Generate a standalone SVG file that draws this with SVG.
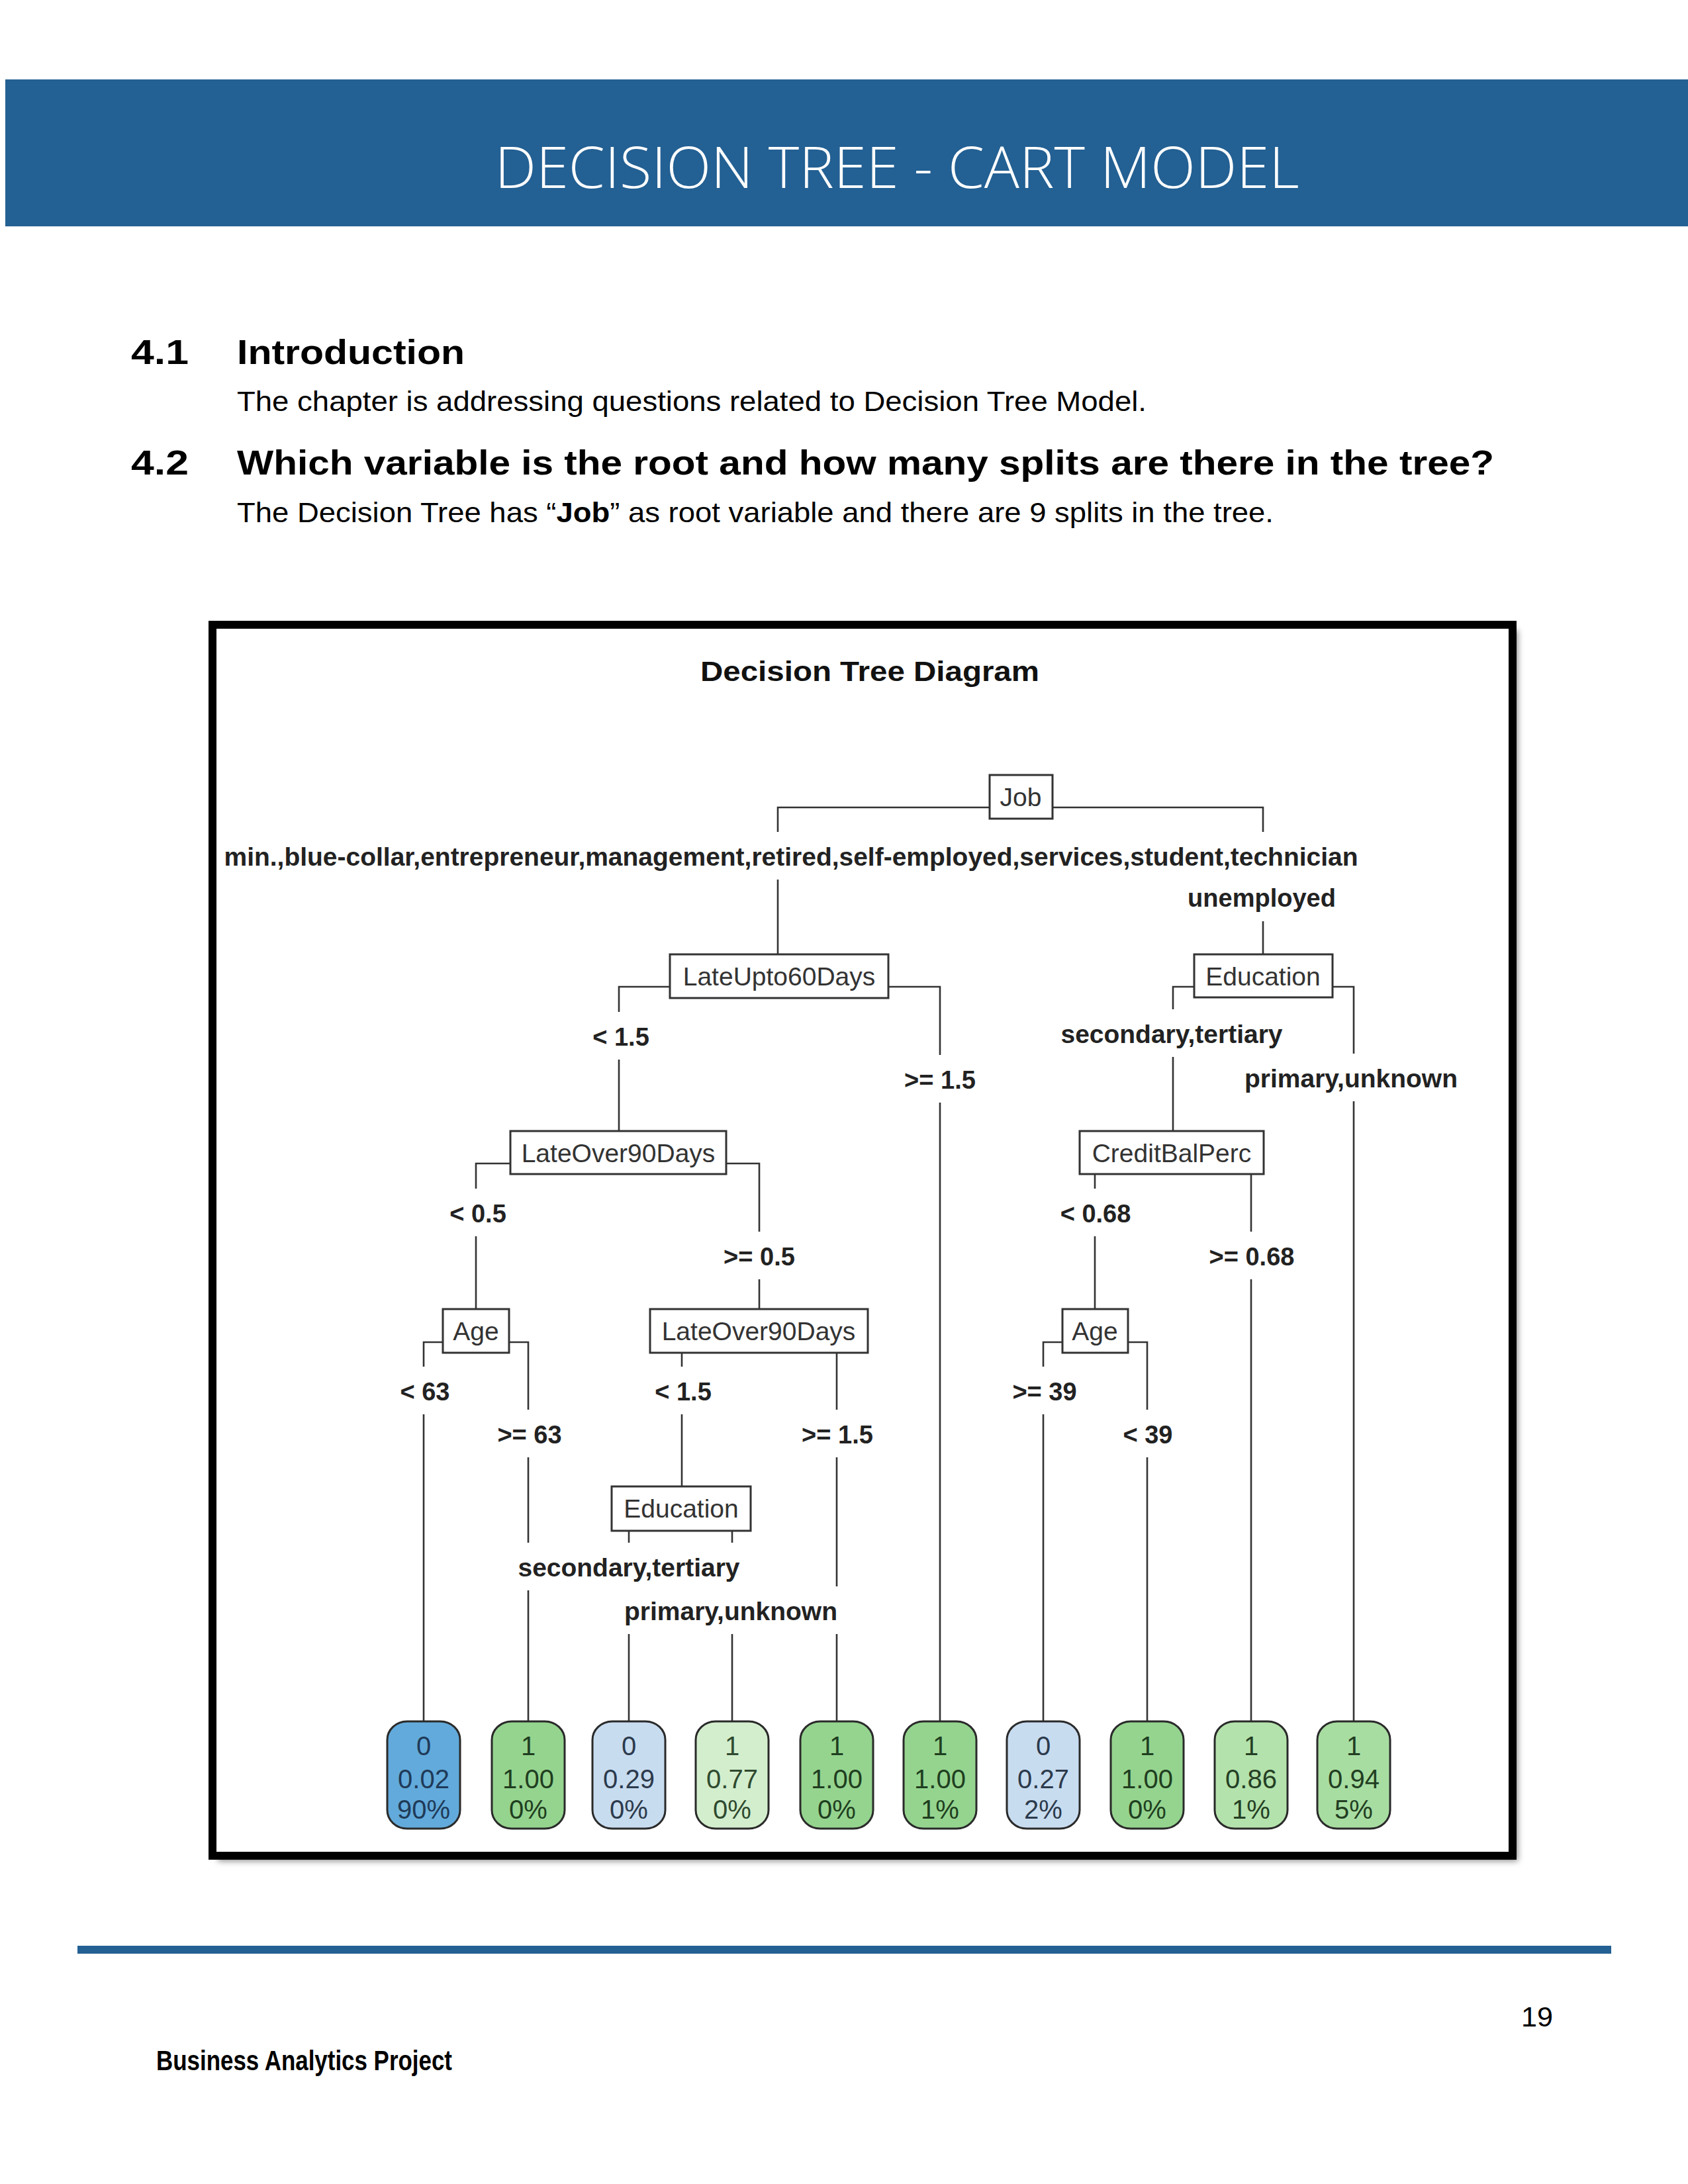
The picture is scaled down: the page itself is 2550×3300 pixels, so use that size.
<svg xmlns="http://www.w3.org/2000/svg" width="2550" height="3300" viewBox="0 0 2550 3300">
<style>
.page{font-family:"Liberation Sans",Arial,sans-serif;fill:#000}
.title{font-family:"Open Sans","Liberation Sans",sans-serif;font-weight:300;font-size:86px;fill:#fff}
.h{font-family:"Liberation Sans",Arial,sans-serif;font-weight:bold;font-size:52px;fill:#000}
.body{font-family:"Liberation Sans",Arial,sans-serif;font-size:42px;fill:#000}
.ctitle{font-family:"Liberation Sans",Arial,sans-serif;font-weight:bold;font-size:42px;fill:#111}
.conn path{fill:none;stroke:#333;stroke-width:2.6}
.node rect{fill:#fff;stroke:#333;stroke-width:3}
.node text{font-family:"Liberation Sans",Arial,sans-serif;font-size:39px;fill:#333;text-anchor:middle}
.lbl rect{fill:#fff;stroke:none}
.lbl text{font-family:"Liberation Sans",Arial,sans-serif;font-weight:bold;font-size:38px;fill:#222;text-anchor:middle}
.leaf rect{stroke:#2a2a2a;stroke-width:3}
.leaf text{font-family:"Liberation Sans",Arial,sans-serif;font-size:40px;text-anchor:middle}
.b0 rect{fill:#62AADB}.b0 text{fill:#1f3a58}
.b1 rect{fill:#C8DCF0}.b1 text{fill:#2c3a4c}
.g100 rect{fill:#95D48F}.g100 text{fill:#203e20}
.g77 rect{fill:#D3EECD}.g77 text{fill:#2f4a2f}
.g86 rect{fill:#B4E2AC}.g86 text{fill:#243f24}
.g94 rect{fill:#A8DDA1}.g94 text{fill:#223e22}
</style>
<defs>
<filter id="sh" x="-5%" y="-5%" width="110%" height="110%"><feGaussianBlur stdDeviation="5"/></filter>
</defs>
<rect width="2550" height="3300" fill="#fff"/>

<!-- header band -->
<g id="header">
<rect x="8" y="120" width="2542" height="222" fill="#236093"/>
<text class="title" x="1355" y="284" text-anchor="middle" textLength="1215" lengthAdjust="spacingAndGlyphs">DECISION TREE - CART MODEL</text>
</g>

<!-- text section -->
<g id="section">
<text class="h" x="198" y="550" textLength="87" lengthAdjust="spacingAndGlyphs">4.1</text>
<text class="h" x="358" y="550" textLength="344" lengthAdjust="spacingAndGlyphs">Introduction</text>
<text class="body" x="358" y="621" textLength="1374" lengthAdjust="spacingAndGlyphs">The chapter is addressing questions related to Decision Tree Model.</text>
<text class="h" x="198" y="717" textLength="87" lengthAdjust="spacingAndGlyphs">4.2</text>
<text class="h" x="358" y="717" textLength="1899" lengthAdjust="spacingAndGlyphs">Which variable is the root and how many splits are there in the tree?</text>
<text class="body" x="358" y="789" textLength="1566" lengthAdjust="spacingAndGlyphs">The Decision Tree has “<tspan font-weight="bold">Job</tspan>” as root variable and there are 9 splits in the tree.</text>
</g>

<!-- chart frame -->
<g id="frame">
<rect x="329" y="952" width="1964" height="1860" fill="#8a8a8a" filter="url(#sh)"/>
<rect x="321" y="944" width="1964" height="1860" fill="#fff" stroke="#000" stroke-width="12"/>
<text class="ctitle" x="1314" y="1029" text-anchor="middle" textLength="512" lengthAdjust="spacingAndGlyphs">Decision Tree Diagram</text>
</g>

<!-- connectors -->
<g id="connectors" class="conn">
<path d="M1175,1442 V1220 H1908 V1442"/>
<path d="M935,1709 V1491 H1420 V2601"/>
<path d="M1772,1709 V1491 H2045 V2601"/>
<path d="M719,1978 V1758 H1147 V1978"/>
<path d="M1654,1978 V1758 H1890 V2601"/>
<path d="M640,2601 V2028 H798 V2601"/>
<path d="M1030,2246 V2028 H1264 V2601"/>
<path d="M1576,2601 V2028 H1733 V2601"/>
<path d="M950,2601 V2296 H1106 V2601"/>
</g>

<!-- edge labels -->
<g id="edge-labels">
<g class="lbl"><rect x="331" y="1257" width="1729" height="72"/><text x="1195" y="1308" textLength="1713" lengthAdjust="spacingAndGlyphs">min.,blue-collar,entrepreneur,management,retired,self-employed,services,student,technician</text></g>
<g class="lbl"><rect x="1790" y="1320" width="234" height="72"/><text x="1906" y="1370">unemployed</text></g>
<g class="lbl"><rect x="888" y="1529" width="100" height="72"/><text x="938" y="1580">&lt; 1.5</text></g>
<g class="lbl"><rect x="1359" y="1594" width="122" height="72"/><text x="1420" y="1645">&gt;= 1.5</text></g>
<g class="lbl"><rect x="1594" y="1525" width="351" height="72"/><text x="1770" y="1576" textLength="335" lengthAdjust="spacingAndGlyphs">secondary,tertiary</text></g>
<g class="lbl"><rect x="1872" y="1592" width="338" height="72"/><text x="2041" y="1643" textLength="322" lengthAdjust="spacingAndGlyphs">primary,unknown</text></g>
<g class="lbl"><rect x="672" y="1796" width="100" height="72"/><text x="722" y="1847">&lt; 0.5</text></g>
<g class="lbl"><rect x="1086" y="1861" width="122" height="72"/><text x="1147" y="1912">&gt;= 0.5</text></g>
<g class="lbl"><rect x="1595" y="1796" width="120" height="72"/><text x="1655" y="1847">&lt; 0.68</text></g>
<g class="lbl"><rect x="1820" y="1861" width="143" height="72"/><text x="1891" y="1912">&gt;= 0.68</text></g>
<g class="lbl"><rect x="597" y="2065" width="90" height="72"/><text x="642" y="2116">&lt; 63</text></g>
<g class="lbl"><rect x="744" y="2130" width="112" height="72"/><text x="800" y="2181">&gt;= 63</text></g>
<g class="lbl"><rect x="982" y="2065" width="100" height="72"/><text x="1032" y="2116">&lt; 1.5</text></g>
<g class="lbl"><rect x="1204" y="2130" width="122" height="72"/><text x="1265" y="2181">&gt;= 1.5</text></g>
<g class="lbl"><rect x="1522" y="2065" width="112" height="72"/><text x="1578" y="2116">&gt;= 39</text></g>
<g class="lbl"><rect x="1689" y="2130" width="90" height="72"/><text x="1734" y="2181">&lt; 39</text></g>
<g class="lbl"><rect x="774" y="2331" width="351" height="72"/><text x="950" y="2382" textLength="335" lengthAdjust="spacingAndGlyphs">secondary,tertiary</text></g>
<g class="lbl"><rect x="935" y="2397" width="338" height="72"/><text x="1104" y="2448" textLength="322" lengthAdjust="spacingAndGlyphs">primary,unknown</text></g>
</g>

<!-- split nodes -->
<g id="n-job" class="node"><rect x="1495" y="1171" width="95" height="66"/><text x="1542" y="1218">Job</text></g>
<g id="n-lateupto60" class="node"><rect x="1012" y="1442" width="330" height="66"/><text x="1177" y="1489">LateUpto60Days</text></g>
<g id="n-education1" class="node"><rect x="1804" y="1442" width="209" height="65"/><text x="1908" y="1489">Education</text></g>
<g id="n-lateover90-1" class="node"><rect x="771" y="1709" width="326" height="65"/><text x="934" y="1756">LateOver90Days</text></g>
<g id="n-creditbal" class="node"><rect x="1631" y="1709" width="278" height="65"/><text x="1770" y="1756">CreditBalPerc</text></g>
<g id="n-age1" class="node"><rect x="669" y="1978" width="100" height="66"/><text x="719" y="2025">Age</text></g>
<g id="n-lateover90-2" class="node"><rect x="982" y="1978" width="329" height="66"/><text x="1146" y="2025">LateOver90Days</text></g>
<g id="n-age2" class="node"><rect x="1605" y="1978" width="99" height="66"/><text x="1654" y="2025">Age</text></g>
<g id="n-education2" class="node"><rect x="924" y="2246" width="210" height="67"/><text x="1029" y="2293">Education</text></g>

<!-- leaves -->
<g id="leaf1" class="leaf b0"><rect x="585" y="2601" width="110" height="162" rx="30" ry="28"/><text x="640" y="2652">0</text><text x="640" y="2702">0.02</text><text x="640" y="2748">90%</text></g>
<g id="leaf2" class="leaf g100"><rect x="743" y="2601" width="110" height="162" rx="30" ry="28"/><text x="798" y="2652">1</text><text x="798" y="2702">1.00</text><text x="798" y="2748">0%</text></g>
<g id="leaf3" class="leaf b1"><rect x="895" y="2601" width="110" height="162" rx="30" ry="28"/><text x="950" y="2652">0</text><text x="950" y="2702">0.29</text><text x="950" y="2748">0%</text></g>
<g id="leaf4" class="leaf g77"><rect x="1051" y="2601" width="110" height="162" rx="30" ry="28"/><text x="1106" y="2652">1</text><text x="1106" y="2702">0.77</text><text x="1106" y="2748">0%</text></g>
<g id="leaf5" class="leaf g100"><rect x="1209" y="2601" width="110" height="162" rx="30" ry="28"/><text x="1264" y="2652">1</text><text x="1264" y="2702">1.00</text><text x="1264" y="2748">0%</text></g>
<g id="leaf6" class="leaf g100"><rect x="1365" y="2601" width="110" height="162" rx="30" ry="28"/><text x="1420" y="2652">1</text><text x="1420" y="2702">1.00</text><text x="1420" y="2748">1%</text></g>
<g id="leaf7" class="leaf b1"><rect x="1521" y="2601" width="110" height="162" rx="30" ry="28"/><text x="1576" y="2652">0</text><text x="1576" y="2702">0.27</text><text x="1576" y="2748">2%</text></g>
<g id="leaf8" class="leaf g100"><rect x="1678" y="2601" width="110" height="162" rx="30" ry="28"/><text x="1733" y="2652">1</text><text x="1733" y="2702">1.00</text><text x="1733" y="2748">0%</text></g>
<g id="leaf9" class="leaf g86"><rect x="1835" y="2601" width="110" height="162" rx="30" ry="28"/><text x="1890" y="2652">1</text><text x="1890" y="2702">0.86</text><text x="1890" y="2748">1%</text></g>
<g id="leaf10" class="leaf g94"><rect x="1990" y="2601" width="110" height="162" rx="30" ry="28"/><text x="2045" y="2652">1</text><text x="2045" y="2702">0.94</text><text x="2045" y="2748">5%</text></g>

<!-- footer -->
<g id="footer">
<rect x="117" y="2940" width="2317" height="12" fill="#236093"/>
<text class="body" x="2346" y="3062" text-anchor="end" textLength="48" lengthAdjust="spacingAndGlyphs">19</text>
<text class="body" x="236" y="3128" font-weight="bold" textLength="447" lengthAdjust="spacingAndGlyphs">Business Analytics Project</text>
</g>
</svg>
